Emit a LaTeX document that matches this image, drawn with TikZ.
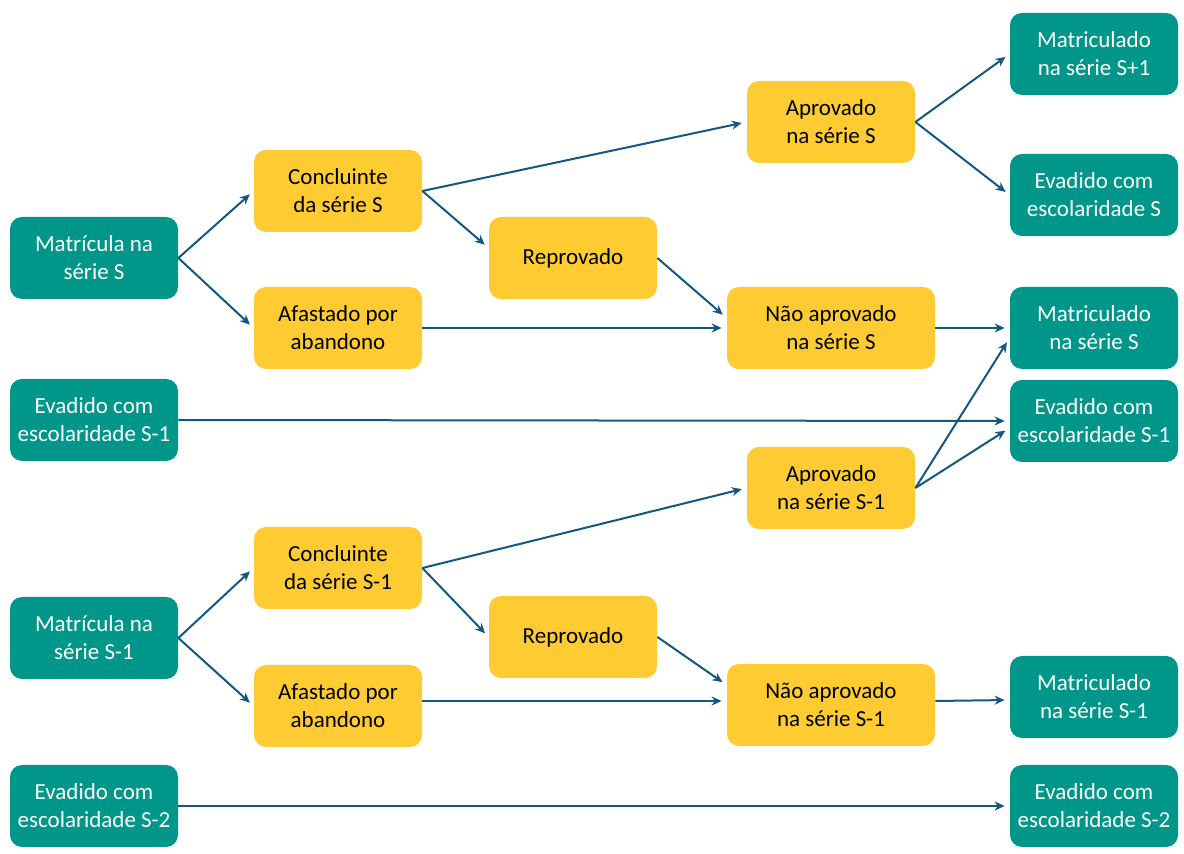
\documentclass[tikz,border=0pt]{standalone}
\usepackage{fontspec}
\setmainfont{Carlito}
\usetikzlibrary{arrows.meta}

\definecolor{teal}{RGB}{0,150,138}
\definecolor{amber}{RGB}{254,204,50}
\definecolor{flow}{RGB}{18,88,128}

\begin{document}
\begin{tikzpicture}[x=0.5pt,y=-0.5pt,
  box/.style={rounded corners=6pt,minimum width=84pt,minimum height=41pt,
    align=center,font=\fontsize{11.5}{14}\selectfont,inner sep=0pt},
  state/.style={box,fill=teal,text=white},
  stage/.style={box,fill=amber,text=black},
  link/.style={draw=flow,line width=1pt,-{Stealth[length=5pt,width=4.5pt]},shorten >=2.5pt}]
  \useasboundingbox (0,0) rectangle (1184,854);

  % grade S
  \node[state] (mS) at (94,258) {Matrícula na\\série S};
  \node[stage] (conS) at (338,191) {Concluinte\\da série S};
  \node[stage] (afaS) at (338,328) {Afastado por\\abandono};
  \node[stage] (repS) at (573,258) {Reprovado};
  \node[stage] (aprS) at (831,122) {Aprovado\\na série S};
  \node[stage,minimum width=104pt] (naS) at (831,328) {Não aprovado\\na série S};

  % carried over from S-1
  \node[state] (evL) at (94,420) {Evadido com\\escolaridade S-1};

  % grade S-1
  \node[state] (mS1) at (94,638) {Matrícula na\\série S-1};
  \node[stage] (conS1) at (338,568) {Concluinte\\da série S-1};
  \node[stage] (afaS1) at (338,706) {Afastado por\\abandono};
  \node[stage] (repS1) at (573,637) {Reprovado};
  \node[stage] (aprS1) at (831,488) {Aprovado\\na série S-1};
  \node[stage,minimum width=104pt] (naS1) at (831,705) {Não aprovado\\na série S-1};
  \node[state] (evL2) at (94,806) {Evadido com\\escolaridade S-2};

  % outcomes
  \node[state] (out1) at (1094,54) {Matriculado\\na série S+1};
  \node[state] (out2) at (1094,195) {Evadido com\\escolaridade S};
  \node[state] (out3) at (1094,328) {Matriculado\\na série S};
  \node[state] (out4) at (1094,421) {Evadido com\\escolaridade S-1};
  \node[state] (out5) at (1094,697) {Matriculado\\na série S-1};
  \node[state] (out6) at (1094,806) {Evadido com\\escolaridade S-2};

  % flows, grade S
  \draw[link] (mS.east) -- (conS.west);
  \draw[link] (mS.east) -- (afaS.west);
  \draw[link] (conS.east) -- (aprS.west);
  \draw[link] (conS.east) -- ([yshift=5pt]repS.west);
  \draw[link] (repS.east) -- ([yshift=5pt]naS.west);
  \draw[link] (afaS.east) -- (naS.west);
  \draw[link] (aprS.east) -- (out1.west);
  \draw[link] (aprS.east) -- (out2.west);
  \draw[link] (naS.east) -- (out3.west);
  \draw[link] (evL.east) -- (out4.west);

  % flows, grade S-1
  \draw[link] (mS1.east) -- (conS1.west);
  \draw[link] (mS1.east) -- (afaS1.west);
  \draw[link] (conS1.east) -- (aprS1.west);
  \draw[link] (conS1.east) -- (repS1.west);
  \draw[link] (repS1.east) -- ([yshift=10pt]naS1.west);
  \draw[link] ([yshift=2.5pt]afaS1.east) -- ([yshift=2pt]naS1.west);
  \draw[link] (aprS1.east) -- ([yshift=-5pt]out3.west);
  \draw[link] (aprS1.east) -- ([yshift=-3.5pt]out4.west);
  \draw[link] ([yshift=2pt]naS1.east) -- ([yshift=-1.5pt]out5.west);
  \draw[link] (evL2.east) -- (out6.west);
\end{tikzpicture}
\end{document}
